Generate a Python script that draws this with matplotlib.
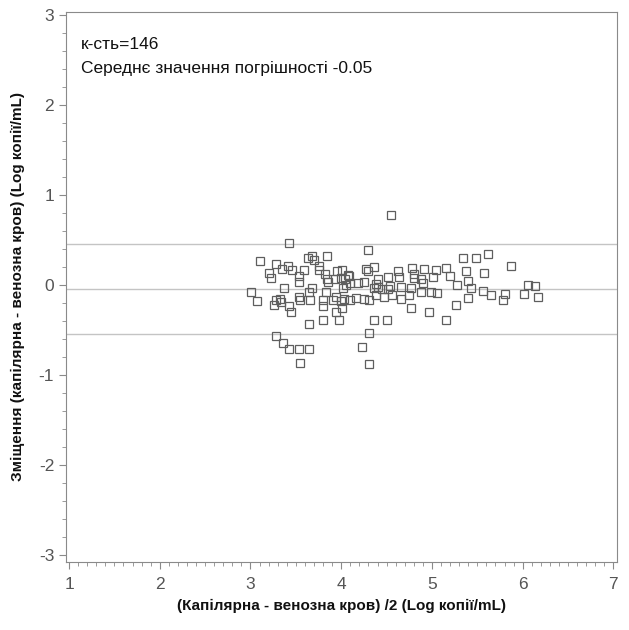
import matplotlib
matplotlib.use("Agg")
import matplotlib.pyplot as plt
from matplotlib.ticker import MultipleLocator

plt.rcParams['font.family'] = ['Liberation Sans', 'DejaVu Sans']
plt.rcParams['axes.unicode_minus'] = False

# середнє (x) та зміщення (y)
avg = [3.01, 3.07, 3.10, 3.20, 3.23, 3.28, 3.26, 3.28, 3.32, 3.34,
       3.28, 3.36, 3.42, 3.35, 3.37, 3.42, 3.41, 3.42, 3.45, 3.46,
       3.53, 3.54, 3.59, 3.53, 3.55, 3.54, 3.55, 3.63, 3.68, 3.70,
       3.75, 3.76, 3.65, 3.68, 3.66, 3.64, 3.64, 3.82, 3.84, 3.85,
       3.84, 3.80, 3.80, 3.83, 3.80, 3.91, 3.94, 3.94, 3.93, 3.95,
       3.98, 4.01, 4.00, 4.01, 4.00, 4.02, 4.03, 4.04, 4.08, 4.10,
       4.05, 4.18, 4.25, 4.16, 4.25, 4.27, 4.30, 4.36, 4.30, 4.31,
       4.36, 4.38, 4.38, 4.40, 4.40, 4.36, 4.31, 4.23, 4.31, 4.45,
       4.47, 4.51, 4.54, 4.52, 4.56, 4.50, 4.55, 4.63, 4.64, 4.66,
       4.66, 4.75, 4.77, 4.78, 4.80, 4.80, 4.77, 4.88, 4.90, 4.91,
       4.88, 4.99, 4.97, 5.01, 5.05, 5.06, 5.16, 5.20, 5.15, 5.26,
       5.28, 5.34, 5.37, 5.40, 5.43, 5.40, 5.48, 5.57, 5.56, 5.62,
       5.65, 5.78, 5.81, 5.87, 6.01, 6.06, 6.14, 6.17, 4.09, 4.10]
bias = [-0.08, -0.18, 0.27, 0.13, 0.08, 0.23, -0.22, -0.17, -0.16, -0.19,
        -0.57, -0.65, -0.71, 0.18, -0.04, 0.47, 0.21, -0.24, -0.30, 0.17,
        0.10, 0.03, 0.16, -0.13, -0.17, -0.71, -0.87, 0.30, 0.32, 0.28,
        0.21, 0.16, -0.08, -0.04, -0.17, -0.44, -0.71, 0.12, 0.07, 0.03,
        0.32, -0.17, -0.24, -0.08, -0.39, -0.17, -0.13, -0.30, 0.06, 0.15,
        -0.39, 0.17, 0.08, -0.26, -0.18, -0.04, -0.16, 0.07, 0.11, 0.02,
        0.00, 0.02, 0.03, -0.15, -0.16, 0.18, 0.15, 0.20, 0.39, -0.17,
        -0.04, -0.11, 0.01, 0.07, -0.02, -0.39, -0.53, -0.69, -0.88, -0.05,
        -0.13, 0.09, -0.01, -0.05, -0.11, -0.39, 0.78, 0.15, 0.09, -0.02,
        -0.16, -0.11, -0.03, 0.19, 0.12, 0.08, -0.26, 0.07, 0.02, 0.18,
        -0.08, -0.08, -0.30, 0.09, 0.17, -0.09, 0.19, 0.10, -0.39, -0.22,
        0.00, 0.30, 0.15, 0.04, -0.04, -0.15, 0.30, 0.13, -0.07, 0.34,
        -0.11, -0.17, -0.10, 0.21, -0.10, 0.00, -0.01, -0.13, 0.10, -0.17]

mean_bias = -0.05
upper_loa = 0.45
lower_loa = -0.55
n_label = "к-сть=146"
mean_label = "Середнє значення погрішності -0.05"

fig = plt.figure(figsize=(6.29, 6.30), dpi=100)
ax = fig.add_axes([0.105, 0.108, 0.876, 0.873])

for yv in [upper_loa, mean_bias, lower_loa]:
    ax.axhline(yv, color="#c4c4c4", lw=1, zorder=1)

ax.plot(avg, bias, linestyle="none", marker="s", markersize=5.6,
        markerfacecolor="none", markeredgecolor="#5e5e5e",
        markeredgewidth=0.9, zorder=2)

ax.set_xlim(0.967, 7.04)
ax.set_ylim(-3.08, 3.033)
ax.xaxis.set_major_locator(MultipleLocator(1))
ax.xaxis.set_minor_locator(MultipleLocator(0.1))
ax.yaxis.set_major_locator(MultipleLocator(1))
ax.yaxis.set_minor_locator(MultipleLocator(0.2))

for s in ax.spines.values():
    s.set_color("#8a8a8a")
ax.tick_params(which="both", direction="out", color="#8a8a8a",
               labelcolor="#555555", labelsize=12.5)
ax.tick_params(which="major", length=5)
ax.tick_params(which="minor", length=3)
ax.tick_params(axis="x", pad=6)

ax.text(1.13, 2.67, n_label, fontsize=12.5, color="#111111", va="center")
ax.text(1.13, 2.41, mean_label, fontsize=12.5, color="#111111", va="center")

ax.set_xlabel("(Капілярна - венозна кров) /2 (Log копії/mL)",
              fontsize=11, fontweight="bold", color="#111111", va="center")
ax.set_ylabel("Зміщення (капілярна - венозна кров) (Log копії/mL)",
              fontsize=11, fontweight="bold", color="#111111", va="center")
ax.xaxis.set_label_coords(0.5, -0.08)
ax.yaxis.set_label_coords(-0.087, 0.5)

fig.savefig("out.png", dpi=100)
